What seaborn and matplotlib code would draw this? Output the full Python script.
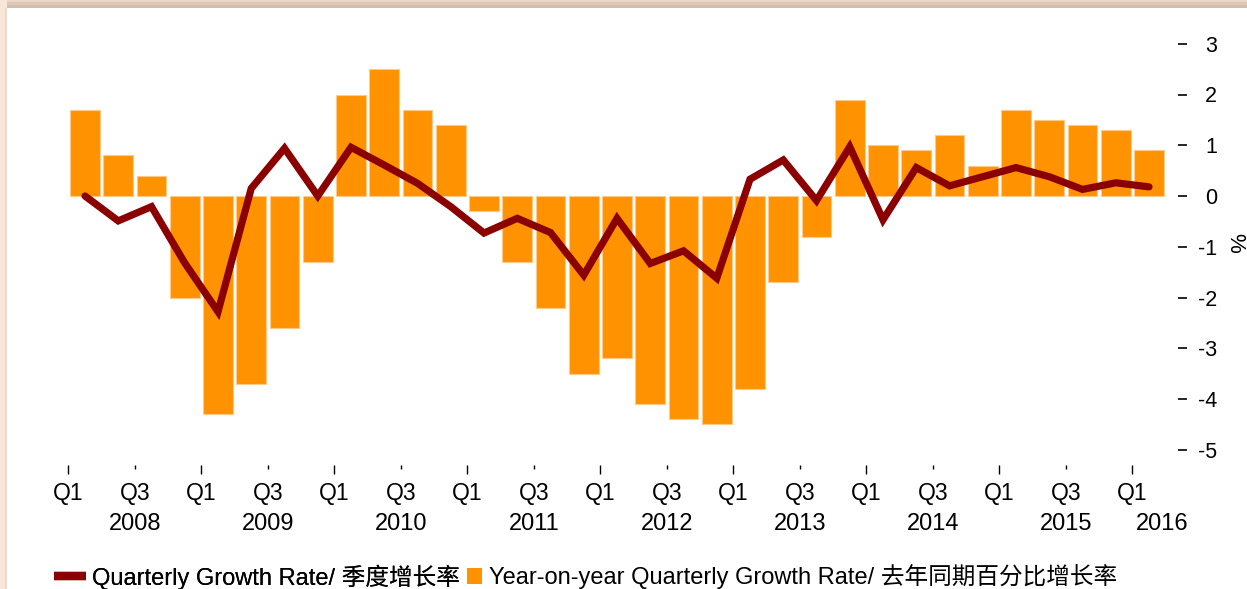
import numpy as np
import pandas as pd
import matplotlib
matplotlib.use("Agg")
import matplotlib.pyplot as plt
from matplotlib.lines import Line2D
from matplotlib.patches import Patch, Rectangle
import seaborn as sns

# ---------------- data ----------------
quarters = [f"{y} Q{q}" for y in range(2008, 2016) for q in range(1, 5)] + ["2016 Q1"]
yoy_growth = [1.7, 0.8, 0.4, -2.0,
              -4.3, -3.7, -2.6, -1.3,
              2.0, 2.5, 1.7, 1.4,
              -0.3, -1.3, -2.2, -3.5,
              -3.2, -4.1, -4.4, -4.5,
              -3.8, -1.7, -0.8, 1.9,
              1.0, 0.9, 1.2, 0.6,
              1.7, 1.5, 1.4, 1.3,
              0.9]
qoq_growth = [0.0, -0.49, -0.21, -1.32,
              -2.28, 0.15, 0.94, 0.0,
              0.96, 0.61, 0.25, -0.21,
              -0.73, -0.44, -0.72, -1.56,
              -0.44, -1.33, -1.08, -1.62,
              0.33, 0.71, -0.09, 0.97,
              -0.47, 0.56, 0.20, 0.38,
              0.56, 0.38, 0.13, 0.26,
              0.18]
years = ["2008", "2009", "2010", "2011", "2012", "2013", "2014", "2015", "2016"]
y_ticks = [3, 2, 1, 0, -1, -2, -3, -4, -5]
line_label = "Quarterly Growth Rate/ 季度增长率"
bar_label = "Year-on-year Quarterly Growth Rate/ 去年同期百分比增长率"

df = pd.DataFrame({"idx": np.arange(len(quarters)),
                   "quarter": quarters,
                   "yoy": yoy_growth,
                   "qoq": qoq_growth})

# ---------------- style ----------------
sns.set_theme(style="white")
plt.rcParams["font.family"] = ["Liberation Sans", "Noto Sans CJK SC", "DejaVu Sans"]
plt.rcParams["axes.unicode_minus"] = False
plt.rcParams["text.color"] = "black"
plt.rcParams["xtick.color"] = "black"
plt.rcParams["ytick.color"] = "black"

W, H, DPI = 1247, 589, 100
fig = plt.figure(figsize=(W / DPI, H / DPI), dpi=DPI)
fig.patch.set_facecolor("#f8e7d9")

def fx(px):
    return px / W

def fy(py):
    return 1 - py / H

# white card with top shadow
fig.patches.append(Rectangle((fx(7), 0), 1 - fx(7), fy(8), transform=fig.transFigure,
                             facecolor="white", edgecolor="none", zorder=-10))
for y0, y1, c in [(0, 2, "#ead8c9"), (2, 5, "#dcc8b8"), (5, 8, "#d2beae")]:
    fig.patches.append(Rectangle((fx(7), fy(y1)), 1 - fx(7), fy(y0) - fy(y1),
                                 transform=fig.transFigure, facecolor=c,
                                 edgecolor="none", zorder=-10))
fig.patches.append(Rectangle((fx(5), 0), fx(2), fy(8), transform=fig.transFigure,
                             facecolor="#ecd9ca", edgecolor="none", zorder=-10))

# axes geometry (pixel based)
x0_px, dx_px = 85.0, 33.25
xlim = (-0.75, 32.87)
ylim = (-5.3, 3.5)
zero_px, dy_px = 196.0, 50.75
left_px = x0_px + xlim[0] * dx_px
right_px = x0_px + xlim[1] * dx_px
top_px = zero_px - ylim[1] * dy_px
bot_px = zero_px - ylim[0] * dy_px
ax = fig.add_axes([fx(left_px), fy(bot_px), fx(right_px - left_px), (bot_px - top_px) / H])
ax.set_facecolor("none")
ax.set_zorder(5)

sns.barplot(data=df, x="idx", y="yoy", color="#ff9200", saturation=1, width=0.9,
            edgecolor="#ffc98a", linewidth=0.8, ax=ax, zorder=2)
sns.lineplot(data=df, x="idx", y="qoq", color="#8b0000", linewidth=5.2, ax=ax,
             zorder=3, solid_joinstyle="miter")

ax.set_xlim(*xlim)
ax.set_ylim(*ylim)
for s in ax.spines.values():
    s.set_visible(False)
ax.set_xlabel("")
ax.set_ylabel("")

# x ticks: Q1 major, Q3 minor (at slot boundaries)
n = len(quarters)
q1_pos = [i - 0.5 for i in range(0, n, 4)]
q3_pos = [i - 0.5 for i in range(2, n, 4)]
ax.set_xticks(q1_pos)
ax.set_xticklabels(["Q1"] * len(q1_pos))
ax.set_xticks(q3_pos, minor=True)
ax.set_xticklabels(["Q3"] * len(q3_pos), minor=True)
ax.tick_params(axis="x", which="major", direction="out", length=6.5, width=1.0,
               color="black", labelsize=16.5, pad=6.0, bottom=True)
ax.tick_params(axis="x", which="minor", direction="out", length=3, width=1.0,
               color="black", labelsize=16.5, pad=9.5, bottom=True)

# y ticks on right
ax.yaxis.tick_right()
ax.set_yticks(y_ticks)
ax.set_yticklabels([str(v) for v in y_ticks])
ax.tick_params(axis="y", direction="out", length=6.5, width=1.2, color="black",
               labelsize=15.5, pad=21.6, right=True, left=False)
for lab in ax.get_yticklabels():
    lab.set_horizontalalignment("right")

# year labels
year_pos = [i + 1.5 for i in range(0, n - 1, 4)] + [32.4]
for xp, yr in zip(year_pos, years):
    ax.text(xp, (bot_px - 523.5) / (bot_px - top_px), yr, transform=ax.get_xaxis_transform(),
            ha="center", va="center", fontsize=17, color="black")

fig.text(fx(1235), fy(243), "%", rotation=270, ha="center", va="center",
         fontsize=16, color="black")

# legends
h1 = [Line2D([], [], color="#8b0000", linewidth=6, solid_capstyle="butt")]
leg1 = fig.legend(h1, [line_label], loc="center left", bbox_to_anchor=(fx(54), fy(577)),
                  frameon=False, borderpad=0, borderaxespad=0, handlelength=1.35,
                  handletextpad=0.25, fontsize=17)
h2 = [Patch(facecolor="#ff9200", edgecolor="none")]
leg2 = fig.legend(h2, [bar_label], loc="center left", bbox_to_anchor=(fx(467), fy(577)),
                  frameon=False, borderpad=0, borderaxespad=0, handlelength=0.65,
                  handleheight=0.7, handletextpad=0.3, fontsize=17)
fig.add_artist(leg1)

fig.savefig("out.png", dpi=DPI, facecolor=fig.get_facecolor())
